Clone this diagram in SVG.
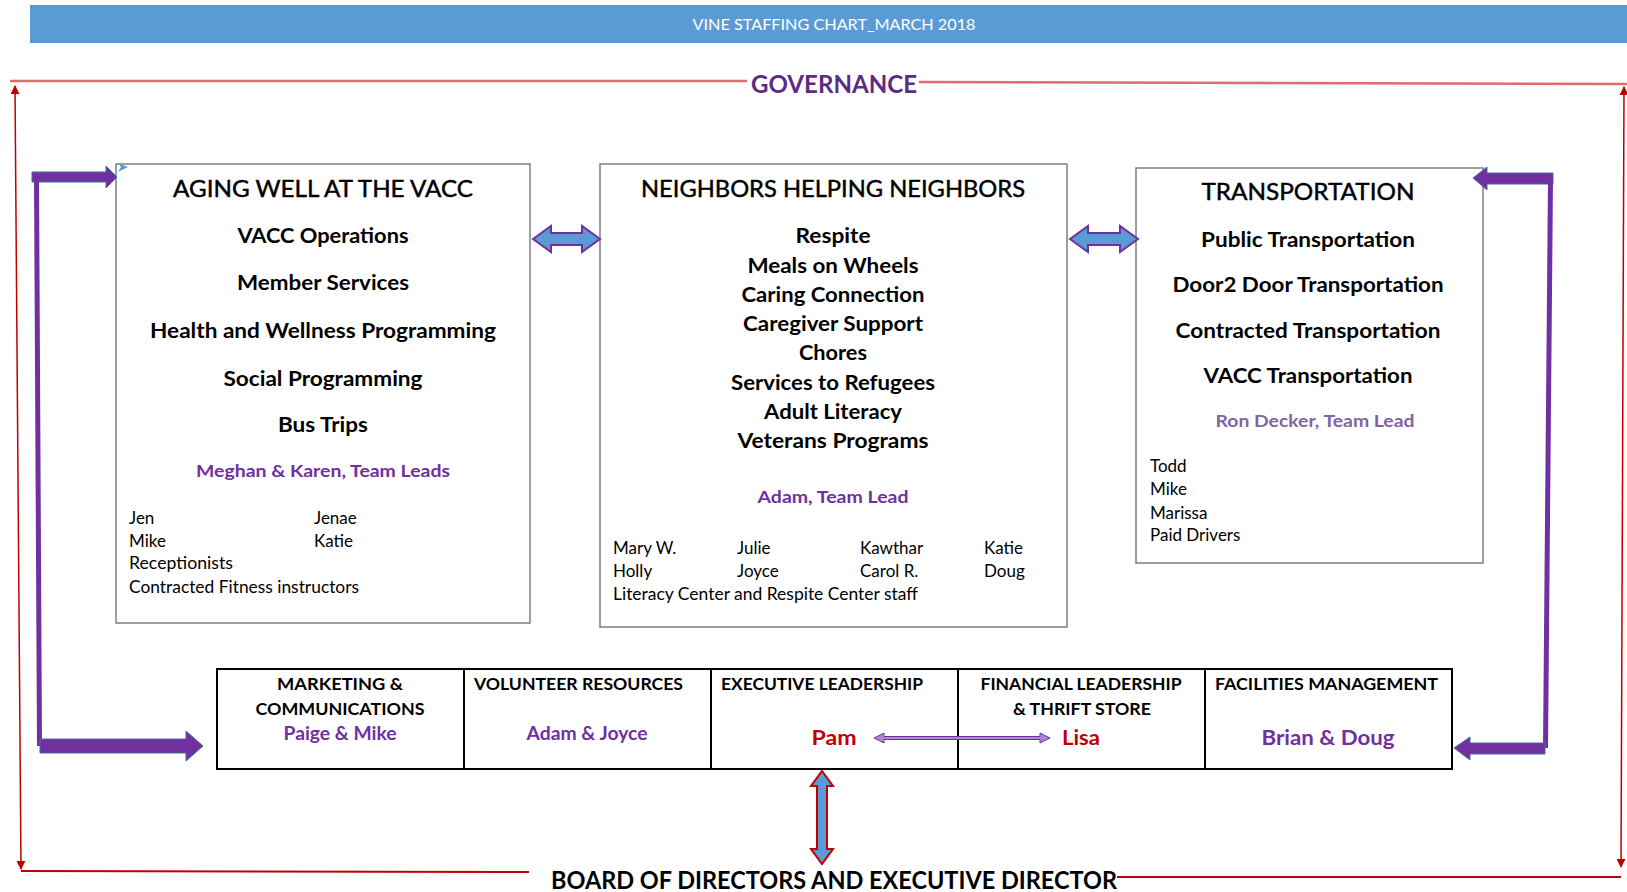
<svg xmlns="http://www.w3.org/2000/svg" width="1627" height="892" viewBox="0 0 1627 892">
  <style>
    text { font-family: Lato, "Liberation Sans", "DejaVu Sans", sans-serif; fill: #000; }
    .c { text-anchor: middle; }
    .title { font-size: 23.5px; stroke: #000; stroke-width: 0.45; }
    .item { font-size: 20px; font-weight: bold; }
    .lead { font-size: 17.5px; font-weight: bold; fill: #7030A0; }
    .lead2 { font-size: 17.5px; font-weight: bold; fill: #8064A2; }
    .name { font-size: 17px; }
    .hdr { font-size: 17px; font-weight: bold; }
    .who { font-size: 18px; font-weight: bold; fill: #7030A0; }
    .who-big { font-size: 20px; font-weight: bold; fill: #7030A0; }
    .exec { font-size: 20px; font-weight: bold; fill: #C00000; }
    .box { fill: #fff; stroke: #7F7F7F; stroke-width: 1.5; }
    .row { fill: #fff; stroke: #000; stroke-width: 2; }
    .gov { fill: none; stroke: #D9534F; stroke-width: 2.5; stroke-opacity: 0.85; }
    .red { fill: none; stroke: #C00000; stroke-width: 2; }
    .redv { fill: none; stroke: #C00000; stroke-width: 1.5; marker-start: url(#tip); marker-end: url(#tip); }
    .purple { fill: #7030A0; stroke: #41719C; stroke-width: 1; }
    .link { fill: #5B9BD5; stroke: #7030A0; stroke-width: 2; }
    .vlink { fill: #5B9BD5; stroke: #C00000; stroke-width: 2; }
  </style>
  <defs>
    <marker id="tip" viewBox="0 0 10 10" refX="9" refY="5" markerWidth="9" markerHeight="9" markerUnits="userSpaceOnUse" orient="auto-start-reverse">
      <path d="M0,0 L10,5 L0,10 z" fill="#C00000"/>
    </marker>
  </defs>

  <!-- title banner -->
  <g id="banner">
    <rect x="30" y="5" width="1597" height="38" fill="#5B9BD5"/>
    <text x="834" y="29.5" class="c" style="font-size:15.5px; fill:#fff" textLength="283" lengthAdjust="spacingAndGlyphs">VINE STAFFING CHART_MARCH 2018</text>
  </g>

  <!-- governance frame -->
  <g id="governance">
    <line class="gov" x1="10" y1="81" x2="747" y2="81"/>
    <line class="gov" x1="919" y1="82" x2="1627" y2="84"/>
    <text x="834" y="93" class="c" style="font-size:25px; font-weight:bold; fill:#5B2B86" textLength="166" lengthAdjust="spacingAndGlyphs">GOVERNANCE</text>
  </g>

  <!-- board -->
  <g id="board">
    <text x="834" y="889" class="c" style="font-size:25px; font-weight:bold" textLength="566" lengthAdjust="spacingAndGlyphs">BOARD OF DIRECTORS AND EXECUTIVE DIRECTOR</text>
  </g>

  <!-- program boxes -->
  <g id="aging-well">
    <rect class="box" x="116" y="164" width="414" height="459"/>
    <text x="323" y="197" class="c title" textLength="300" lengthAdjust="spacingAndGlyphs">AGING WELL AT THE VACC</text>
    <text x="323" y="243" class="c item" textLength="171" lengthAdjust="spacingAndGlyphs">VACC Operations</text>
    <text x="323" y="290" class="c item" textLength="172" lengthAdjust="spacingAndGlyphs">Member Services</text>
    <text x="323" y="338" class="c item" textLength="346" lengthAdjust="spacingAndGlyphs">Health and Wellness Programming</text>
    <text x="323" y="386" class="c item" textLength="199" lengthAdjust="spacingAndGlyphs">Social Programming</text>
    <text x="323" y="432" class="c item" textLength="90" lengthAdjust="spacingAndGlyphs">Bus Trips</text>
    <text x="323" y="477" class="c lead" textLength="254" lengthAdjust="spacingAndGlyphs">Meghan &amp; Karen, Team Leads</text>
    <text x="129" y="524" class="name">Jen</text>
    <text x="314" y="524" class="name">Jenae</text>
    <text x="129" y="547" class="name">Mike</text>
    <text x="314" y="547" class="name">Katie</text>
    <text x="129" y="569" class="name" textLength="104" lengthAdjust="spacingAndGlyphs">Receptionists</text>
    <text x="129" y="593" class="name" textLength="230" lengthAdjust="spacingAndGlyphs">Contracted Fitness instructors</text>
  </g>

  <g id="neighbors">
    <rect class="box" x="600" y="164" width="467" height="463"/>
    <text x="833" y="197" class="c title" textLength="384" lengthAdjust="spacingAndGlyphs">NEIGHBORS HELPING NEIGHBORS</text>
    <text x="833" y="243" class="c item" textLength="75" lengthAdjust="spacingAndGlyphs">Respite</text>
    <text x="833" y="273" class="c item" textLength="171" lengthAdjust="spacingAndGlyphs">Meals on Wheels</text>
    <text x="833" y="302" class="c item" textLength="183" lengthAdjust="spacingAndGlyphs">Caring Connection</text>
    <text x="833" y="331" class="c item" textLength="180" lengthAdjust="spacingAndGlyphs">Caregiver Support</text>
    <text x="833" y="360" class="c item" textLength="68" lengthAdjust="spacingAndGlyphs">Chores</text>
    <text x="833" y="390" class="c item" textLength="204" lengthAdjust="spacingAndGlyphs">Services to Refugees</text>
    <text x="833" y="419" class="c item" textLength="138" lengthAdjust="spacingAndGlyphs">Adult Literacy</text>
    <text x="833" y="448" class="c item" textLength="191" lengthAdjust="spacingAndGlyphs">Veterans Programs</text>
    <text x="833" y="503" class="c lead" textLength="151" lengthAdjust="spacingAndGlyphs">Adam, Team Lead</text>
    <text x="613" y="554" class="name">Mary W.</text>
    <text x="737" y="554" class="name">Julie</text>
    <text x="860" y="554" class="name">Kawthar</text>
    <text x="984" y="554" class="name">Katie</text>
    <text x="613" y="577" class="name">Holly</text>
    <text x="737" y="577" class="name">Joyce</text>
    <text x="860" y="577" class="name">Carol R.</text>
    <text x="984" y="577" class="name">Doug</text>
    <text x="613" y="600" class="name" textLength="305" lengthAdjust="spacingAndGlyphs">Literacy Center and Respite Center staff</text>
  </g>

  <g id="transportation">
    <rect class="box" x="1136" y="168" width="347" height="395"/>
    <text x="1308" y="200" class="c title" textLength="213" lengthAdjust="spacingAndGlyphs">TRANSPORTATION</text>
    <text x="1308" y="247" class="c item" textLength="214" lengthAdjust="spacingAndGlyphs">Public Transportation</text>
    <text x="1308" y="292" class="c item" textLength="271" lengthAdjust="spacingAndGlyphs">Door2 Door Transportation</text>
    <text x="1308" y="338" class="c item" textLength="265" lengthAdjust="spacingAndGlyphs">Contracted Transportation</text>
    <text x="1308" y="383" class="c item" textLength="209" lengthAdjust="spacingAndGlyphs">VACC Transportation</text>
    <text x="1315" y="427" class="c lead2" textLength="199" lengthAdjust="spacingAndGlyphs">Ron Decker, Team Lead</text>
    <text x="1150" y="472" class="name">Todd</text>
    <text x="1150" y="495" class="name">Mike</text>
    <text x="1150" y="519" class="name">Marissa</text>
    <text x="1150" y="541" class="name">Paid Drivers</text>
  </g>

  <!-- support functions row -->
  <g id="support-row">
    <rect class="row" x="217" y="669" width="1235" height="100"/>
    <line x1="464" y1="669" x2="464" y2="769" stroke="#000" stroke-width="2"/>
    <line x1="711" y1="669" x2="711" y2="769" stroke="#000" stroke-width="2"/>
    <line x1="958" y1="669" x2="958" y2="769" stroke="#000" stroke-width="2"/>
    <line x1="1205" y1="669" x2="1205" y2="769" stroke="#000" stroke-width="2"/>
  </g>
  <g id="marketing">
    <text x="340" y="690" class="c hdr" textLength="126" lengthAdjust="spacingAndGlyphs">MARKETING &amp;</text>
    <text x="340" y="715" class="c hdr" textLength="169" lengthAdjust="spacingAndGlyphs">COMMUNICATIONS</text>
    <text x="340" y="740" class="c who" textLength="113" lengthAdjust="spacingAndGlyphs">Paige &amp; Mike</text>
  </g>
  <g id="volunteer">
    <text x="474" y="690" class="hdr" textLength="209" lengthAdjust="spacingAndGlyphs">VOLUNTEER RESOURCES</text>
    <text x="587" y="740" class="c who" textLength="121" lengthAdjust="spacingAndGlyphs">Adam &amp; Joyce</text>
  </g>
  <g id="executive">
    <text x="721" y="690" class="hdr" textLength="202" lengthAdjust="spacingAndGlyphs">EXECUTIVE LEADERSHIP</text>
    <text x="834" y="745" class="c exec" textLength="45" lengthAdjust="spacingAndGlyphs">Pam</text>
  </g>
  <g id="financial">
    <text x="1081" y="690" class="c hdr" textLength="201" lengthAdjust="spacingAndGlyphs">FINANCIAL LEADERSHIP</text>
    <text x="1082" y="715" class="c hdr" textLength="138" lengthAdjust="spacingAndGlyphs">&amp; THRIFT STORE</text>
    <text x="1081" y="745" class="c exec" textLength="38" lengthAdjust="spacingAndGlyphs">Lisa</text>
  </g>
  <g id="facilities">
    <text x="1215" y="690" class="hdr" textLength="223" lengthAdjust="spacingAndGlyphs">FACILITIES MANAGEMENT</text>
    <text x="1328" y="745" class="c who-big" textLength="133" lengthAdjust="spacingAndGlyphs">Brian &amp; Doug</text>
  </g>

  <!-- connectors -->
  <g id="connectors">
    <!-- governance / board loop -->
    <line class="redv" x1="15" y1="86" x2="21" y2="869"/>
    <line class="redv" x1="1624" y1="87" x2="1621" y2="867"/>
    <line class="red" x1="21" y1="871" x2="529" y2="872"/>
    <line class="red" x1="1117" y1="877" x2="1621" y2="877"/>

    <!-- left purple elbow: aging well <-> marketing -->
    <polygon class="purple" points="32,172 106,172 106,166 117,177 106,188 106,182 32,182"/>
    <polygon points="34,177 39,177 42,746 37,746" fill="#7030A0"/>
    <polygon class="purple" points="40,739 186,739 186,731 203,746 186,761 186,753 40,753"/>
    <polygon points="118,163 128,167 118,172 121,167" fill="#5B9BD5"/>

    <!-- right purple elbow: transportation <-> facilities -->
    <polygon class="purple" points="1553,173 1487,173 1487,167 1473,178 1487,190 1487,184 1553,184"/>
    <polygon points="1548,178 1553,178 1548,748 1543,748" fill="#7030A0"/>
    <polygon class="purple" points="1545,743 1470,743 1470,737 1454,748 1470,760 1470,754 1545,754"/>

    <!-- program links -->
    <polygon class="link" points="533,239 551,226 551,233 582,233 582,226 600,239 582,252 582,245 551,245 551,252"/>
    <polygon class="link" points="1070,239 1088,226 1088,233 1120,233 1120,226 1138,239 1120,252 1120,245 1088,245 1088,252"/>

    <!-- Pam <-> Lisa -->
    <polygon points="874,738 884,733 884,736.5 1040,736.5 1040,733 1050,738 1040,743 1040,739.5 884,739.5 884,743" fill="#A58BD6" stroke="#7030A0" stroke-width="1"/>

    <!-- executive leadership <-> board -->
    <polygon class="vlink" points="822,771 833,786 827,786 827,849 833,849 822,864 811,849 817,849 817,786 811,786"/>
  </g>
</svg>
